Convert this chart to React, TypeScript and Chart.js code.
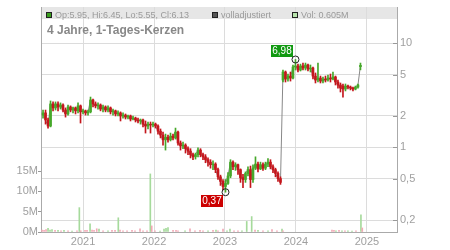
import { useEffect, useRef } from 'react';
import { Chart, registerables } from 'chart.js';

Chart.register(...registerables);

// ---- data ----
const candleStart = 2020.4366; // decimal year of first candle
const candleStep = 0.03521; // spacing between candles (years)

const opens = [
  2.04, 2.14, 1.83, 1.60, 2.61, 2.39, 2.61, 2.44, 2.55, 2.28,
  2.09, 2.44, 2.28, 2.39, 2.24, 2.50, 2.19, 2.24, 2.14, 2.19,
  2.85, 2.61, 2.50, 2.55, 2.33, 2.44, 2.28, 2.39, 2.19, 2.24,
  2.09, 2.14, 2.00, 2.04, 1.95, 2.00, 1.87, 1.91, 1.83, 1.79,
  1.83, 1.67, 1.60, 1.67, 1.64, 1.67, 1.60, 1.43, 1.31, 1.18,
  1.25, 1.18, 1.28, 1.23, 1.40, 1.10, 1.03, 1.05, 0.97, 0.92,
  0.85, 0.81, 0.85, 0.94, 0.85, 0.81, 0.76, 0.72, 0.68, 0.69,
  0.61, 0.52, 0.47, 0.42, 0.45, 0.53, 0.72, 0.65, 0.68, 0.61,
  0.51, 0.49, 0.56, 0.61, 0.49, 0.63, 0.69, 0.62, 0.68, 0.63,
  0.69, 0.72, 0.65, 0.61, 0.56, 0.50, 4.43, 5.29, 4.53, 4.84,
  4.63, 5.91, 6.05, 5.53, 6.05, 5.78, 6.18, 5.65, 5.78, 4.84,
  4.43, 4.63, 4.33, 4.53, 4.43, 4.63, 4.53, 4.74, 4.24, 3.97,
  3.88, 3.63, 3.88, 3.79, 3.71, 3.63, 3.79, 5.95,
];
const highs = [
  2.28, 2.28, 1.91, 2.79, 2.73, 2.73, 2.73, 2.67, 2.61, 2.39,
  2.55, 2.50, 2.44, 2.44, 2.67, 2.55, 2.33, 2.28, 2.28, 3.04,
  2.91, 2.73, 2.67, 2.61, 2.55, 2.50, 2.50, 2.44, 2.33, 2.28,
  2.24, 2.19, 2.14, 2.09, 2.04, 2.04, 2.00, 1.95, 1.91, 1.87,
  1.87, 1.79, 1.75, 1.75, 1.75, 1.71, 1.64, 1.50, 1.40, 1.34,
  1.31, 1.37, 1.34, 1.53, 1.43, 1.15, 1.12, 1.08, 1.01, 0.97,
  0.88, 0.88, 0.99, 0.97, 0.88, 0.85, 0.79, 0.76, 0.74, 0.71,
  0.63, 0.54, 0.49, 0.49, 0.57, 0.76, 0.74, 0.71, 0.69, 0.62,
  0.55, 0.58, 0.65, 0.66, 0.68, 0.81, 0.72, 0.72, 0.71, 0.72,
  0.78, 0.76, 0.68, 0.63, 0.58, 0.52, 5.53, 5.41, 5.06, 5.29,
  6.18, 6.98, 6.30, 6.30, 6.45, 6.45, 6.30, 6.18, 5.91, 5.18,
  6.45, 4.84, 4.74, 4.84, 4.95, 5.06, 5.29, 4.84, 4.43, 4.15,
  4.06, 4.06, 3.97, 3.88, 3.79, 3.88, 4.06, 6.45,
];
const lows = [
  1.91, 1.67, 1.53, 1.57, 2.24, 2.28, 2.24, 2.33, 2.19, 1.95,
  2.04, 2.19, 2.14, 2.09, 2.14, 1.71, 2.09, 2.04, 2.04, 2.14,
  2.44, 2.39, 2.33, 2.24, 2.19, 2.19, 2.19, 2.09, 2.04, 2.00,
  2.00, 1.79, 1.91, 1.87, 1.87, 1.79, 1.83, 1.75, 1.71, 1.67,
  1.57, 1.37, 1.50, 1.37, 1.57, 1.53, 1.34, 1.23, 1.05, 0.94,
  1.12, 1.15, 1.18, 1.20, 1.05, 0.94, 0.97, 0.88, 0.85, 0.79,
  0.76, 0.77, 0.81, 0.81, 0.76, 0.71, 0.66, 0.63, 0.61, 0.57,
  0.49, 0.43, 0.39, 0.37, 0.44, 0.51, 0.61, 0.60, 0.55, 0.46,
  0.41, 0.46, 0.53, 0.41, 0.46, 0.61, 0.58, 0.61, 0.60, 0.61,
  0.65, 0.62, 0.57, 0.52, 0.47, 0.44, 4.24, 4.24, 4.33, 4.33,
  4.53, 5.53, 5.29, 5.41, 5.53, 5.53, 5.41, 5.29, 4.53, 4.15,
  4.24, 4.15, 4.15, 4.24, 4.33, 4.24, 4.43, 3.97, 3.71, 3.40,
  3.04, 3.48, 3.63, 3.56, 3.48, 3.56, 3.71, 5.55,
];
const closes = [
  2.14, 1.83, 1.60, 2.61, 2.39, 2.61, 2.44, 2.55, 2.28, 2.09,
  2.44, 2.28, 2.39, 2.24, 2.50, 2.19, 2.24, 2.14, 2.19, 2.85,
  2.61, 2.50, 2.55, 2.33, 2.44, 2.28, 2.39, 2.19, 2.24, 2.09,
  2.14, 2.00, 2.04, 1.95, 2.00, 1.87, 1.91, 1.83, 1.79, 1.83,
  1.67, 1.60, 1.67, 1.64, 1.67, 1.60, 1.43, 1.31, 1.18, 1.25,
  1.18, 1.28, 1.23, 1.40, 1.10, 1.03, 1.05, 0.97, 0.92, 0.85,
  0.81, 0.85, 0.94, 0.85, 0.81, 0.76, 0.72, 0.68, 0.69, 0.61,
  0.52, 0.47, 0.42, 0.45, 0.53, 0.72, 0.65, 0.68, 0.61, 0.51,
  0.49, 0.56, 0.61, 0.49, 0.63, 0.69, 0.62, 0.68, 0.63, 0.69,
  0.72, 0.65, 0.61, 0.56, 0.50, 0.46, 5.29, 4.53, 4.84, 4.63,
  5.91, 6.05, 5.53, 6.05, 5.78, 6.18, 5.65, 5.78, 4.84, 4.43,
  4.63, 4.33, 4.53, 4.43, 4.63, 4.53, 4.74, 4.24, 3.97, 3.71,
  3.63, 3.88, 3.79, 3.71, 3.63, 3.79, 3.97, 6.13,
];

// volume bars (decimal year, millions, 1 = up day)
const volDates = [
  2020.423, 2020.451, 2020.479, 2020.507, 2020.535, 2020.563, 2020.606, 2020.648, 2020.690, 2020.732,
  2020.789, 2020.845, 2020.915, 2020.948, 2020.968, 2021.028, 2021.056, 2021.099, 2021.127, 2021.155,
  2021.193, 2021.225, 2021.282, 2021.352, 2021.408, 2021.451, 2021.497, 2021.521, 2021.563, 2021.620,
  2021.690, 2021.732, 2021.803, 2021.845, 2021.901, 2021.948, 2021.968, 2022.014, 2022.085, 2022.141,
  2022.169, 2022.197, 2022.268, 2022.310, 2022.338, 2022.437, 2022.507, 2022.577, 2022.648, 2022.690,
  2022.761, 2022.831, 2022.873, 2022.901, 2022.972, 2023.028, 2023.070, 2023.127, 2023.183, 2023.239,
  2023.306, 2023.376, 2023.423, 2023.465, 2023.535, 2023.606, 2023.662, 2023.732, 2023.803, 2023.817,
  2024.507, 2024.535, 2024.563, 2024.606, 2024.648, 2024.690, 2024.732, 2024.789, 2024.845, 2024.915,
  2024.934,
];
const volValues = [
  0.5, 0.4, 0.6, 0.9, 0.5, 0.6, 0.4, 0.4, 0.3, 0.4,
  0.3, 0.2, 0.3, 6.0, 0.3, 0.4, 0.4, 2.0, 0.5, 0.4,
  0.8, 0.7, 0.3, 0.3, 0.4, 0.4, 3.5, 0.5, 0.3, 0.3,
  0.4, 0.3, 0.8, 0.3, 0.3, 14.3, 1.5, 0.3, 0.2, 0.7,
  0.9, 1.1, 0.4, 0.4, 0.3, 0.3, 0.8, 0.3, 0.4, 0.3,
  0.3, 0.4, 0.5, 0.3, 0.7, 0.3, 0.7, 0.3, 0.3, 0.3,
  2.6, 3.8, 0.5, 0.4, 0.3, 0.3, 0.6, 0.3, 0.7, 0.3,
  0.5, 0.4, 0.3, 0.4, 0.3, 0.3, 0.3, 0.2, 0.3, 4.2,
  1.0,
];
const volUp = [
  0, 0, 0, 1, 1, 1, 0, 1, 0, 1,
  0, 1, 0, 1, 0, 0, 0, 1, 0, 0,
  0, 1, 0, 1, 0, 0, 1, 0, 0, 0,
  0, 0, 0, 0, 0, 1, 0, 0, 1, 1,
  1, 1, 0, 0, 0, 1, 0, 0, 0, 0,
  1, 0, 1, 0, 0, 1, 1, 0, 0, 1,
  1, 1, 0, 1, 0, 1, 0, 0, 1, 0,
  0, 0, 1, 0, 1, 0, 1, 1, 0, 1,
  0,
];

const yearTicks = [2021, 2022, 2023, 2024, 2025];
const priceTicks = [0.2, 0.5, 1, 2, 5, 10];
const volTicks = [0, 5, 10, 15];
const chartTitle = '4 Jahre, 1-Tages-Kerzen';
const adjustedLabel = 'volladjustiert';
const lastVolume = 0.605;

// ---- styles ----
const FONT = '"Liberation Sans", Arial, Helvetica, sans-serif';
const UP = '#46a82a';
const DOWN = '#c4161c';
const VUP = '#a6da9c';
const VDOWN = '#f2a9b5';
const GRID = '#dcdcdc';
const AXIS = '#aaaaaa';
const LABEL = '#a0a0a0';

const fmtDe = (v: number) => v.toFixed(2).replace('.', ',');

export default function App() {
  const ref = useRef<HTMLCanvasElement | null>(null);

  useEffect(() => {
    if (!ref.current) return;
    Chart.defaults.font.family = FONT;

    const dates = opens.map((_, i) => candleStart + i * candleStep);
    const candleColors = opens.map((o, i) => (closes[i] >= o ? UP : DOWN));
    let hiIdx = 0;
    let loIdx = 0;
    highs.forEach((h, i) => { if (h > highs[hiIdx]) hiIdx = i; });
    lows.forEach((l, i) => { if (l < lows[loIdx]) loIdx = i; });
    const last = opens.length - 1;

    const decor = {
      id: 'decor',
      beforeDraw(chart: any) {
        const { ctx, chartArea: a } = chart;
        ctx.save();
        ctx.fillStyle = '#e6e6e6';
        ctx.fillRect(a.left, a.top, a.right - a.left, 12);
        ctx.restore();
      },
      afterDatasetsDraw(chart: any) {
        const { ctx } = chart;
        const xs = chart.scales.x;
        const ys = chart.scales.y;
        ctx.save();
        ctx.font = `10px ${FONT}`;
        ctx.textAlign = 'center';
        ctx.textBaseline = 'middle';
        // high label
        let px = xs.getPixelForValue(dates[hiIdx]);
        let py = ys.getPixelForValue(highs[hiIdx]);
        ctx.fillStyle = '#119911';
        ctx.fillRect(Math.round(px - 24.5), Math.round(py - 14.5), 22, 12);
        ctx.fillStyle = '#ffffff';
        ctx.fillText(fmtDe(highs[hiIdx]), Math.round(px - 24.5) + 11, Math.round(py - 14.5) + 6.5);
        // low label
        px = xs.getPixelForValue(dates[loIdx]);
        py = ys.getPixelForValue(lows[loIdx]);
        ctx.fillStyle = '#cc0000';
        ctx.fillRect(Math.round(px - 24.5), Math.round(py + 3), 22, 12);
        ctx.fillStyle = '#ffffff';
        ctx.fillText(fmtDe(lows[loIdx]), Math.round(px - 24.5) + 11, Math.round(py + 3) + 6.5);
        ctx.restore();
      },
      afterDraw(chart: any) {
        const { ctx, chartArea: a } = chart;
        const ys = chart.scales.y;
        ctx.save();
        // inner tick marks on right axis
        ctx.strokeStyle = '#999999';
        ctx.lineWidth = 1;
        ys.ticks.forEach((t: any) => {
          const yy = Math.round(ys.getPixelForValue(t.value)) + 0.5;
          ctx.beginPath();
          ctx.moveTo(a.right - 4, yy);
          ctx.lineTo(a.right, yy);
          ctx.stroke();
        });
        // legend band
        const items = [
          { x: a.left + 5, fill: '#3a9e1e', text: `Op:${opens[last].toFixed(2)}, Hi:${highs[last].toFixed(2)}, Lo:${lows[last].toFixed(2)}, Cl:${closes[last].toFixed(2)}` },
          { x: a.left + 171, fill: '#555555', text: adjustedLabel },
          { x: a.left + 251, fill: '#b8e4ac', text: `Vol: ${lastVolume.toFixed(3)}M` },
        ];
        ctx.font = `9px ${FONT}`;
        ctx.textBaseline = 'alphabetic';
        ctx.textAlign = 'left';
        items.forEach((it) => {
          ctx.fillStyle = it.fill;
          ctx.fillRect(it.x, a.top + 5, 6, 6);
          ctx.strokeStyle = '#222222';
          ctx.strokeRect(it.x + 0.5, a.top + 5.5, 5, 5);
          ctx.fillStyle = '#9a9a9a';
          ctx.fillText(it.text, it.x + 9, a.top + 11);
        });
        // title
        ctx.font = `bold 12px ${FONT}`;
        ctx.fillStyle = '#888888';
        ctx.fillText(chartTitle, a.left + 6, a.top + 26.5);
        ctx.restore();
      },
    };

    const chart = new Chart(ref.current, {
      type: 'bar',
      data: {
        datasets: [
          {
            type: 'line',
            label: 'extremes',
            data: [
              { x: dates[hiIdx], y: highs[hiIdx] },
              { x: dates[loIdx], y: lows[loIdx] },
            ],
            showLine: false,
            pointRadius: 3.5,
            pointBorderColor: '#222222',
            pointBackgroundColor: 'rgba(255,255,255,0)',
            pointBorderWidth: 1,
            yAxisID: 'y',
            xAxisID: 'x',
            order: -1,
          } as any,
          {
            type: 'bar',
            label: 'bodies',
            data: dates.map((d, i) => ({ x: d, y: [opens[i], closes[i]] })) as any,
            backgroundColor: candleColors,
            borderWidth: 0,
            barThickness: 2,
            grouped: false,
            yAxisID: 'y',
            xAxisID: 'x',
            order: 0,
          } as any,
          {
            type: 'bar',
            label: 'wicks',
            data: dates.map((d, i) => ({ x: d, y: [lows[i], highs[i]] })) as any,
            backgroundColor: candleColors,
            borderWidth: 0,
            barThickness: 1,
            grouped: false,
            yAxisID: 'y',
            xAxisID: 'x',
            order: 1,
          } as any,
          {
            type: 'line',
            label: adjustedLabel,
            data: dates.map((d, i) => ({ x: d, y: closes[i] })),
            borderColor: '#888888',
            borderWidth: 1,
            pointRadius: 0,
            tension: 0,
            yAxisID: 'y',
            xAxisID: 'x',
            order: 2,
          } as any,
          {
            type: 'bar',
            label: 'Vol',
            data: volDates.map((d, i) => ({ x: d, y: volValues[i] })) as any,
            backgroundColor: volUp.map((u) => (u ? VUP : VDOWN)),
            borderWidth: 0,
            barThickness: 1,
            grouped: false,
            yAxisID: 'yv',
            xAxisID: 'x',
            order: 3,
          } as any,
        ],
      },
      options: {
        animation: false,
        responsive: true,
        maintainAspectRatio: false,
        devicePixelRatio: 1,
        layout: { padding: { top: 7, left: 0, right: 0, bottom: 0 } },
        plugins: { legend: { display: false }, tooltip: { enabled: false }, title: { display: false } },
        scales: {
          x: {
            type: 'linear',
            min: 2020.408,
            max: 2025.423,
            bounds: 'data',
            offset: false,
            grid: { offset: false, color: GRID, drawTicks: false },
            border: { color: AXIS },
            ticks: { color: LABEL, font: { size: 11 }, padding: 3, autoSkip: false, maxRotation: 0, callback: (v: any) => String(v) },
            afterBuildTicks: (s: any) => { s.ticks = yearTicks.map((v) => ({ value: v })); },
            afterFit: (s: any) => { s.height = 18; s.paddingLeft = 0; s.paddingRight = 0; s.paddingTop = 0; s.paddingBottom = 0; },
          },
          y: {
            type: 'logarithmic',
            position: 'right',
            min: 0.1534,
            max: 22.3,
            beginAtZero: false,
            grid: { color: GRID, drawTicks: false },
            border: { color: AXIS },
            ticks: { color: LABEL, font: { size: 11 }, padding: 3, autoSkip: false, callback: (v: any) => String(v).replace('.', ',') },
            afterBuildTicks: (s: any) => { s.ticks = priceTicks.map((v) => ({ value: v })); },
            afterFit: (s: any) => { s.width = 53; s.paddingTop = 0; s.paddingBottom = 0; s.paddingLeft = 0; s.paddingRight = 0; },
          },
          yv: {
            type: 'linear',
            position: 'left',
            min: 0,
            max: 55.4,
            bounds: 'data',
            grid: { drawOnChartArea: false, drawTicks: true, tickLength: 3, color: '#999999' },
            border: { color: AXIS },
            ticks: { color: LABEL, font: { size: 11 }, padding: 0, autoSkip: false, callback: (v: any) => `${v}M` },
            afterBuildTicks: (s: any) => { s.ticks = volTicks.map((v) => ({ value: v })); },
            afterFit: (s: any) => { s.width = 41; s.paddingTop = 0; s.paddingBottom = 0; s.paddingLeft = 0; s.paddingRight = 0; },
          },
        } as any,
      },
      plugins: [decor],
    });

    return () => chart.destroy();
  }, []);

  return (
    <div style={{ position: 'absolute', left: 0, top: 0, width: 450, height: 250, background: '#fff' }}>
      <canvas ref={ref} />
    </div>
  );
}
